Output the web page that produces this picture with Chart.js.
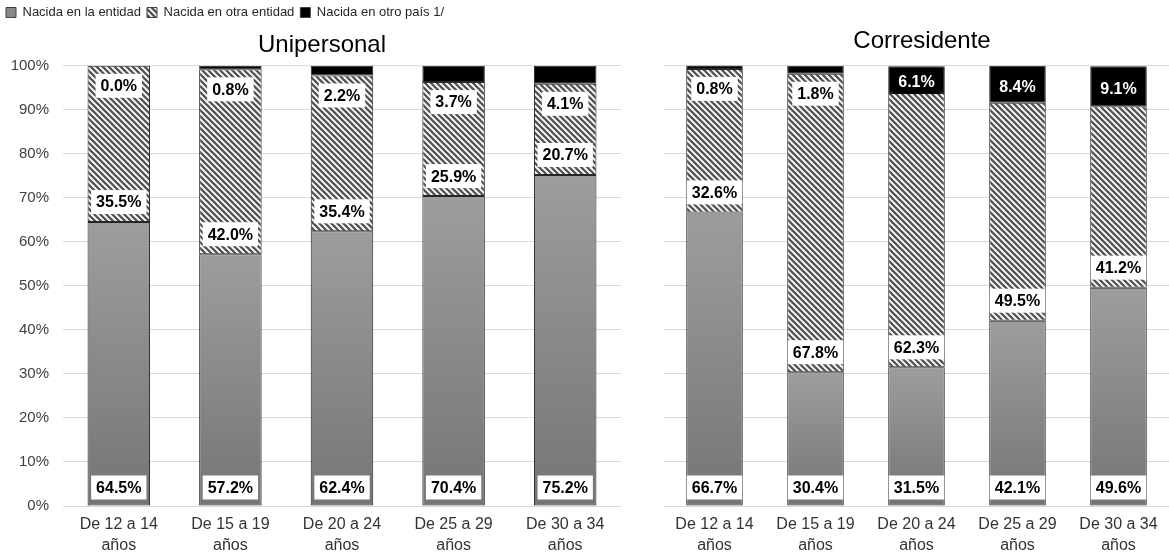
<!DOCTYPE html>
<html>
<head>
<meta charset="utf-8">
<script src="https://cdn.jsdelivr.net/npm/chart.js@4.4.1/dist/chart.umd.min.js"></script>
<style>
  html, body { margin: 0; padding: 0; background: #fff; overflow: hidden; }
  canvas { position: absolute; top: 0; }
  #uni { left: 0; }
  #cor { left: 664px; }
</style>
</head>
<body>
<canvas id="uni" width="644" height="559"></canvas>
<canvas id="cor" width="516" height="559"></canvas>
<script>
const categories = [
  ['De 12 a 14', 'años'],
  ['De 15 a 19', 'años'],
  ['De 20 a 24', 'años'],
  ['De 25 a 29', 'años'],
  ['De 30 a 34', 'años'],
]
const seriesNames = ['Nacida en la entidad', 'Nacida en otra entidad', 'Nacida en otro país 1/']

// Unipersonal
const uniEntidad = [64.5, 57.2, 62.4, 70.4, 75.2]
const uniOtraEntidad = [35.5, 42.0, 35.4, 25.9, 20.7]
const uniOtroPais = [0.0, 0.8, 2.2, 3.7, 4.1]

// Corresidente
const corEntidad = [66.7, 30.4, 31.5, 42.1, 49.6]
const corOtraEntidad = [32.6, 67.8, 62.3, 49.5, 41.2]
const corOtroPais = [0.8, 1.8, 6.1, 8.4, 9.1]

const yTicks = [0, 10, 20, 30, 40, 50, 60, 70, 80, 90, 100]

Chart.defaults.font.family = '"Liberation Sans", Arial, sans-serif'
Chart.defaults.color = '#404040'

function makeHatch() {
  const p = 6
  const c = document.createElement('canvas')
  c.width = p
  c.height = p
  const g = c.getContext('2d')
  g.fillStyle = '#fff'
  g.fillRect(0, 0, p, p)
  g.strokeStyle = '#555'
  g.lineWidth = 2.3
  g.beginPath()
  g.moveTo(0, 0)
  g.lineTo(p, p)
  g.moveTo(-1, p - 1)
  g.lineTo(1, p + 1)
  g.moveTo(p - 1, -1)
  g.lineTo(p + 1, 1)
  g.stroke()
  return g.createPattern(c, 'repeat')
}
const hatch = makeHatch()

// gray bars get a soft top-to-bottom gradient
function grayFill(context) {
  const chart = context.chart
  if (!chart.chartArea || context.type !== 'data') return '#8a8a8a'
  const y = chart.scales.y
  const top = y.getPixelForValue(context.raw)
  const bottom = y.getPixelForValue(0)
  const g = chart.ctx.createLinearGradient(0, top, 0, bottom)
  g.addColorStop(0, '#9d9d9d')
  g.addColorStop(1, '#757575')
  return g
}

const legendFills = ['#8a8a8a', hatch, '#000']

const barLabels = {
  id: 'barLabels',
  afterDatasetsDraw(chart) {
    const ctx = chart.ctx
    ctx.save()
    ctx.font = 'bold 16px "Liberation Sans", Arial, sans-serif'
    ctx.textAlign = 'center'
    ctx.textBaseline = 'middle'
    chart.data.datasets.forEach((ds, di) => {
      chart.getDatasetMeta(di).data.forEach((bar, i) => {
        const v = ds.data[i]
        const text = v.toFixed(1) + '%'
        const w = ctx.measureText(text).width + 10
        const h = 24
        let cy
        let dark = false
        if (di === 0) cy = bar.base - 18
        else if (di === 1) cy = bar.base - 20
        else if (v > 5) {
          cy = (bar.y + bar.base) / 2 + 2
          dark = true
        } else cy = bar.base + 20
        ctx.fillStyle = dark ? '#000' : '#fff'
        ctx.fillRect(bar.x - w / 2, cy - h / 2, w, h)
        ctx.fillStyle = dark ? '#fff' : '#000'
        ctx.fillText(text, bar.x, cy + 1)
      })
    })
    ctx.restore()
  },
}

function datasets(a, b, c) {
  const common = {
    borderColor: '#262626',
    borderWidth: 1,
    borderSkipped: false,
    barPercentage: 0.56,
    categoryPercentage: 1,
  }
  return [
    { label: seriesNames[0], data: a, backgroundColor: grayFill, ...common },
    { label: seriesNames[1], data: b, backgroundColor: hatch, ...common },
    { label: seriesNames[2], data: c, backgroundColor: '#000', ...common },
  ]
}

function options(titleText, showLegend, showY, yWidth, padRight, titlePadding) {
  return {
    animation: false,
    responsive: false,
    layout: { padding: 0 },
    scales: {
      x: {
        stacked: true,
        grid: { display: false },
        border: { display: false },
        afterFit: s => { s.height = 53 },
        ticks: {
          color: '#333',
          font: { size: 16, lineHeight: 1.32 },
          padding: 0,
          maxRotation: 0,
          autoSkip: false,
        },
      },
      y: {
        stacked: true,
        min: 0,
        max: 100,
        afterBuildTicks: s => { s.ticks = yTicks.map(value => ({ value })) },
        afterFit: s => { s.width = yWidth },
        grid: { color: '#d9d9d9', drawTicks: false },
        border: { display: false },
        ticks: {
          display: showY,
          color: '#404040',
          font: { size: 15 },
          padding: 14,
          callback: v => v + '%',
        },
      },
      // empty strip on the right so the title centres like the original
      pad: {
        axis: 'y',
        position: 'right',
        display: true,
        afterFit: s => { s.width = padRight },
        grid: { display: false },
        border: { display: false },
        ticks: { display: false },
      },
    },
    plugins: {
      legend: {
        display: showLegend,
        position: 'top',
        align: 'start',
        labels: {
          boxWidth: 10,
          boxHeight: 10,
          padding: 6,
          color: '#262626',
          font: { size: 13 },
          generateLabels: () => seriesNames.map((text, i) => ({
            text,
            fillStyle: legendFills[i],
            strokeStyle: '#404040',
            lineWidth: 1,
            datasetIndex: i,
            fontColor: '#262626',
          })),
        },
      },
      title: {
        display: true,
        text: titleText,
        color: '#000',
        weight: 500,
        font: { size: 24, weight: 'normal' },
        padding: titlePadding,
      },
      tooltip: { enabled: false },
    },
  }
}

new Chart(document.getElementById('uni'), {
  type: 'bar',
  data: { labels: categories, datasets: datasets(uniEntidad, uniOtraEntidad, uniOtroPais) },
  plugins: [barLabels],
  options: options('Unipersonal', true, true, 63, 23, { top: 2, bottom: 6 }),
})

new Chart(document.getElementById('cor'), {
  type: 'bar',
  data: { labels: categories, datasets: datasets(corEntidad, corOtraEntidad, corOtroPais) },
  plugins: [barLabels],
  options: options('Corresidente', false, false, 0, 11, { top: 27, bottom: 10 }),
})
</script>
</body>
</html>
